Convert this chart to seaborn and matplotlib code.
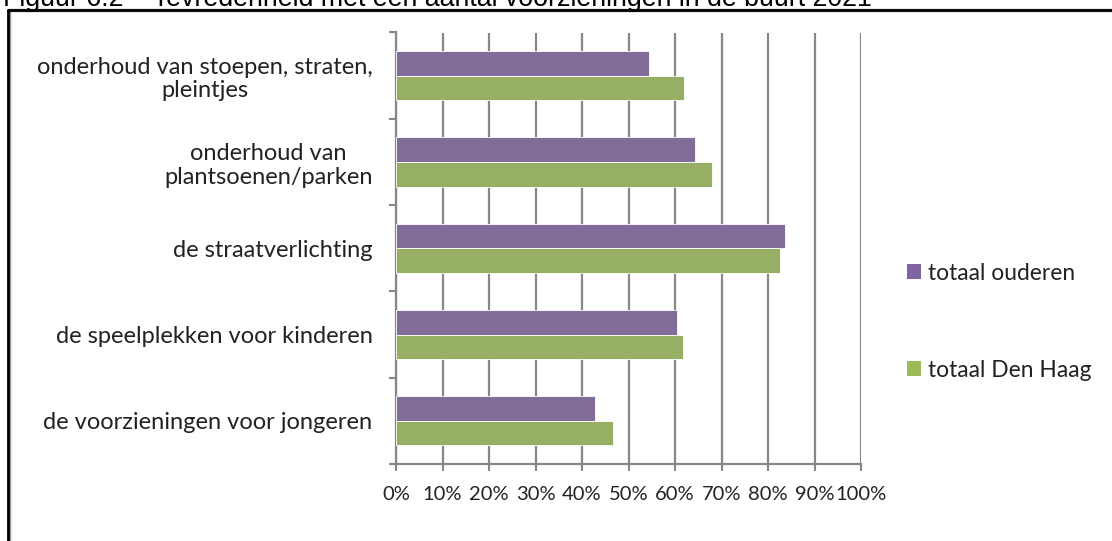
import numpy as np
import pandas as pd
import matplotlib
matplotlib.use("Agg")
import matplotlib.pyplot as plt
import seaborn as sns
from matplotlib.lines import Line2D
from matplotlib.patches import Patch

categories = [
    "onderhoud van stoepen, straten,\npleintjes",
    "onderhoud van\nplantsoenen/parken",
    "de straatverlichting",
    "de speelplekken voor kinderen",
    "de voorzieningen voor jongeren",
]
series_names = ["totaal ouderen", "totaal Den Haag"]
ouderen = [54.5, 64.2, 83.7, 60.4, 42.7]
den_haag = [62.0, 68.0, 82.6, 61.8, 46.6]
x_ticks = [0, 10, 20, 30, 40, 50, 60, 70, 80, 90, 100]
x_tick_labels = [f"{t}%" for t in x_ticks]
title = "Figuur 6.2 – Tevredenheid met een aantal voorzieningen in de buurt 2021"

colors = ["#8064A2", "#9BBB59"]

sns.set_theme(style="white")
plt.rcParams["font.family"] = ["Lato", "DejaVu Sans"]

df = pd.DataFrame({
    "cat": categories * 2,
    "val": ouderen + den_haag,
    "series": [series_names[0]] * 5 + [series_names[1]] * 5,
})

fig = plt.figure(figsize=(11.12, 5.41), dpi=100)
ax = fig.add_axes([396 / 1112, 1 - 464 / 541, (861 - 396) / 1112, (464 - 32.5) / 541])

sns.barplot(data=df, y="cat", x="val", hue="series", orient="h",
            palette=colors, width=0.57, ax=ax, order=categories,
            hue_order=series_names, edgecolor="white", linewidth=0.6,
            legend=False, zorder=3)

ax.set_xlim(0, 100)
ax.set_ylim(4.5, -0.5)
ax.set_xticks(x_ticks)
ax.set_xticklabels(x_tick_labels, fontsize=14.5, color="#222222")
ax.set_xlabel("")
ax.set_ylabel("")
ax.xaxis.grid(True, color="#878787", linewidth=1.6, zorder=0)
ax.yaxis.grid(False)
ax.set_axisbelow(True)

ax.set_yticks(range(len(categories)))
ax.set_yticklabels(categories, fontsize=17, color="#222222", multialignment="center",
                   linespacing=1.15)
ax.tick_params(axis="y", length=0, pad=17)
ax.set_yticks(np.arange(-0.5, len(categories), 1.0), minor=True)
ax.tick_params(axis="y", which="minor", left=True, length=5, width=1.5, color="#878787", direction="out")
ax.tick_params(axis="x", bottom=True, length=5, width=1.5, color="#878787", direction="out", pad=11)

for s in ["top", "right"]:
    ax.spines[s].set_visible(False)
for s in ["left", "bottom"]:
    ax.spines[s].set_color("#878787")
    ax.spines[s].set_linewidth(1.6)

handles = [Patch(facecolor=c, edgecolor="none") for c in colors]
fig.legend(handles, series_names, loc="upper left", bbox_to_anchor=(886 / 1112, 1 - 242 / 541),
           frameon=False, fontsize=16.4, handlelength=0.65, handleheight=0.65,
           handletextpad=0.3, labelspacing=3.35, labelcolor="#222222")

# outer frame (left and top)
fig.add_artist(Line2D([8.5 / 1112, 8.5 / 1112], [0, 1 - 10 / 541], color="#999999", lw=2.5, transform=fig.transFigure))
fig.add_artist(Line2D([8.5 / 1112, 1], [1 - 10 / 541, 1 - 10 / 541], color="#999999", lw=2.5, transform=fig.transFigure))
fig.add_artist(Line2D([8 / 1112, 8 / 1112], [0, 1 - 9.5 / 541], color="black", lw=2, transform=fig.transFigure))
fig.add_artist(Line2D([8 / 1112, 1], [1 - 9.5 / 541, 1 - 9.5 / 541], color="black", lw=2, transform=fig.transFigure))

fig.text(3 / 1112, 1 - 6 / 541, title, fontsize=19.3, family=["Liberation Sans", "DejaVu Sans"],
         ha="left", va="baseline", color="black")

fig.savefig("out.png", dpi=100)
